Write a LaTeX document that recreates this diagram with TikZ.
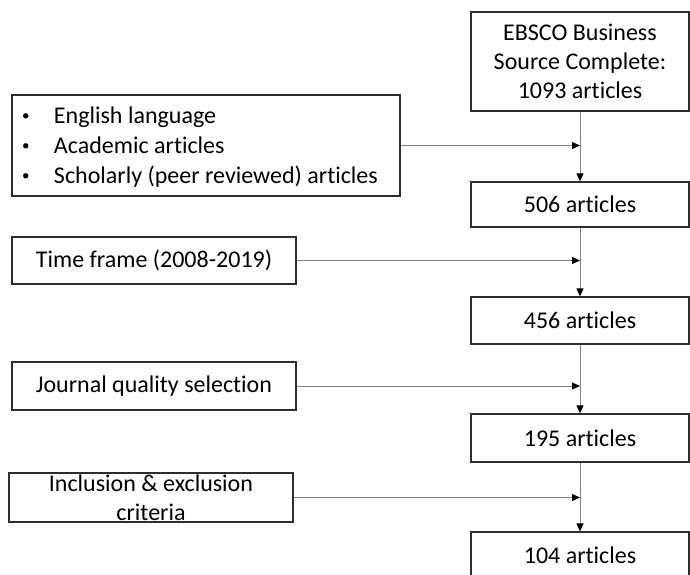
\documentclass[tikz,border=0pt]{standalone}
\usepackage{fontspec}
\setmainfont{Carlito}[Ligatures=NoCommon]
\usetikzlibrary{arrows.meta,positioning}
\definecolor{ink}{RGB}{45,45,45}
\definecolor{wire}{RGB}{128,128,128}
\newcommand{\dotitem}{\makebox[32pt][l]{\raisebox{3pt}{\fontsize{15}{15}\selectfont\textbullet}}}
\tikzset{
  >={Triangle[length=8pt,width=7pt,color=black]},
  stage/.style={draw=ink,line width=1.3pt,minimum width=218pt,minimum height=#1,
    inner sep=0pt,align=center,font=\fontsize{24}{29}\selectfont},
  stage/.default=46pt,
  filter/.style={draw=ink,line width=1.3pt,minimum width=284pt,minimum height=#1,
    inner sep=0pt,align=center,font=\fontsize{24}{29}\selectfont},
  filter/.default=47pt,
  flow/.style={->,draw=wire,line width=1pt},
}

\begin{document}
\begin{tikzpicture}[x=1pt,y=-1pt]
    \useasboundingbox (0,0) rectangle (690,575);
    \clip (0,0) rectangle (690,575);
    % right column: counts
    \node[stage=99pt] (src) at (580,61.5) {EBSCO Business\\Source Complete:\\1093 articles};
    \foreach \n/\y/\h in {506/204.5/45pt,456/320.5/47pt,195/438/48pt,104/555.5/47pt}
      \node[stage=\h] (a\n) at (580,\y) {\n{} articles};
    % left column: criteria
    \node[filter=101pt,minimum width=388pt,text width=368pt,align=flush left,
      text height=29pt,text depth=72pt,font=\fontsize{24}{30}\selectfont] (lang) at (206,145.5)
      {\dotitem English language\\
       \dotitem Academic articles\\
       \dotitem Scholarly (peer reviewed) articles};
    \node[filter] (time) at (154,260.5) {Time frame (2008-2019)};
    \node[filter=48pt] (jq) at (154,386) {Journal quality selection};
    \node[filter,text height=47pt,text depth=2pt] (crit) at (151,497.5) {Inclusion \& exclusion\\criteria};
    % flows
    \draw[flow] (src) -- (a506);
    \draw[flow] (a506) -- (a456);
    \draw[flow] (a456) -- (a195);
    \draw[flow] (a195) -- (a104);
    \foreach \f in {lang,time,jq,crit}
      \draw[flow] (\f.east) -- (\f.east -| src.south);
\end{tikzpicture}
\end{document}
